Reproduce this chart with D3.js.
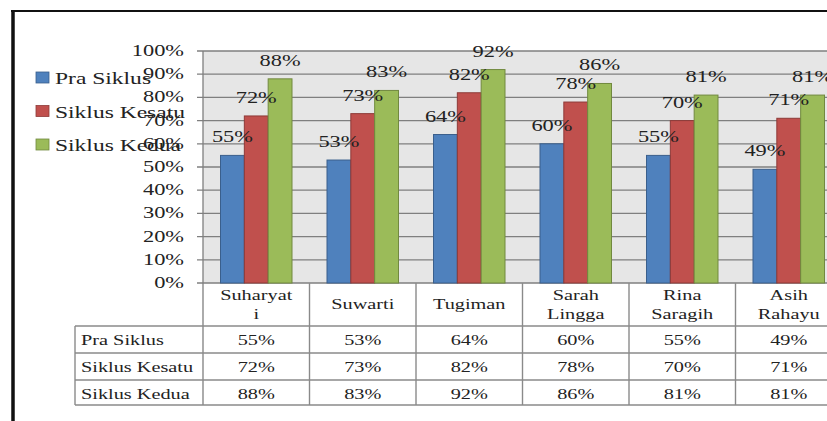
<!DOCTYPE html>
<html><head><meta charset="utf-8">
<script src="https://cdn.jsdelivr.net/npm/d3@7"></script>
<style>html,body{margin:0;padding:0;background:#fff;overflow:hidden}svg{display:block}</style>
</head><body>
<script>
const categories = [["Suharyat","i"],["Suwarti"],["Tugiman"],["Sarah","Lingga"],["Rina","Saragih"],["Asih","Rahayu"]];
const catKeys = ["Suharyati","Suwarti","Tugiman","Sarah Lingga","Rina Saragih","Asih Rahayu"];
const seriesNames = ["Pra Siklus","Siklus Kesatu","Siklus Kedua"];
const praSiklus = [55,53,64,60,55,49];
const siklusKesatu = [72,73,82,78,70,71];
const siklusKedua = [88,83,92,86,81,81];
const yTicks = [0,10,20,30,40,50,60,70,80,90,100];
const colors = ["#4f81bd","#c0504d","#9bbb59"];
const strokes = ["#3a5f8c","#8e3a38","#71893f"];

const W=827,H=421;
const svg=d3.select("body").append("svg").attr("width",W).attr("height",H);
const serif="'Liberation Serif','Times New Roman',serif";
const SX=1.4;

function txt(g,x,y,s,size,anchor,fill,sx){
  return g.append("text").attr("transform",`translate(${x},${y}) scale(${sx||SX},1)`)
    .attr("text-anchor",anchor||"start").attr("font-family",serif).attr("font-size",size)
    .attr("fill",fill||"#222").text(s);
}

// frame
svg.append("line").attr("x1",11).attr("x2",W).attr("y1",11).attr("y2",11).attr("stroke","#111").attr("stroke-width",2);
svg.append("line").attr("x1",13).attr("x2",13).attr("y1",10).attr("y2",H).attr("stroke","#111").attr("stroke-width",3.5);

const x0=203, step=106.5;
const x=d3.scaleBand().domain(catKeys).range([x0,x0+step*catKeys.length]).paddingInner(0).paddingOuter(0);
const xs=d3.scaleBand().domain(seriesNames).range([17.5,step-17.5]).padding(0);
const y=d3.scaleLinear().domain([0,100]).range([283,51]);

// plot background
svg.append("rect").attr("x",x0).attr("y",y(100)).attr("width",x.range()[1]-x0).attr("height",y(0)-y(100)).attr("fill","#e6e6e6");

// gridlines & ticks
const gy=svg.append("g");
yTicks.forEach(t=>{
  gy.append("line").attr("x1",197).attr("x2",x.range()[1]).attr("y1",y(t)).attr("y2",y(t))
    .attr("stroke","#7f7f7f").attr("stroke-width",1.3);
  txt(gy,184,y(t)+5,t+"%",16,"end","#222");
});
svg.append("line").attr("x1",x0).attr("x2",x0).attr("y1",y(100)).attr("y2",405).attr("stroke","#7f7f7f").attr("stroke-width",1.3);

// bars
const data=[praSiklus,siklusKesatu,siklusKedua];
const gb=svg.append("g");
data.forEach((vals,si)=>{
  vals.forEach((v,ci)=>{
    const bx=x(catKeys[ci])+xs(seriesNames[si]);
    gb.append("rect").attr("x",bx).attr("y",y(v)).attr("width",xs.bandwidth()).attr("height",y(0)-y(v))
      .attr("fill",colors[si]).attr("stroke",strokes[si]).attr("stroke-width",1);
  });
});
// labels
data.forEach((vals,si)=>{
  vals.forEach((v,ci)=>{
    const cx=x(catKeys[ci])+xs(seriesNames[si])+xs.bandwidth()/2;
    txt(gb,cx,y(v)-13,v+"%",16,"middle","#222");
  });
});

// legend
const gl=svg.append("g");
seriesNames.forEach((n,i)=>{
  const cy=77.5+i*33.5;
  gl.append("rect").attr("x",36).attr("y",cy-5.5).attr("width",13).attr("height",11).attr("fill",colors[i]).attr("stroke",strokes[i]).attr("stroke-width",0.8);
  txt(gl,55,cy+6.5,n,16,"start","#222",1.47);
});

// table
const gt=svg.append("g");
const rowY=[326,353,380,405];
const lc="#8a8a8a";
rowY.forEach(ry=>gt.append("line").attr("x1",75).attr("x2",x.range()[1]).attr("y1",ry).attr("y2",ry).attr("stroke",lc).attr("stroke-width",1.4));
gt.append("line").attr("x1",75).attr("x2",75).attr("y1",326).attr("y2",405).attr("stroke",lc).attr("stroke-width",1.4);
catKeys.forEach((k,i)=>{
  const bx=x(k)+step;
  gt.append("line").attr("x1",bx).attr("x2",bx).attr("y1",283).attr("y2",405).attr("stroke",lc).attr("stroke-width",1.4);
  const cx=x(k)+step/2;
  const lines=categories[i];
  if(lines.length===1) txt(gt,cx,309,lines[0],14,"middle","#222",1.45);
  else { txt(gt,cx,300,lines[0],14,"middle","#222",1.45); txt(gt,cx,319,lines[1],14,"middle","#222",1.45); }
  data.forEach((vals,si)=>{
    txt(gt,cx,rowY[si]+19,vals[i]+"%",14,"middle","#222",1.45);
  });
});
seriesNames.forEach((n,si)=>txt(gt,81,rowY[si]+19,n,14,"start","#222",1.45));
</script>
</body></html>
